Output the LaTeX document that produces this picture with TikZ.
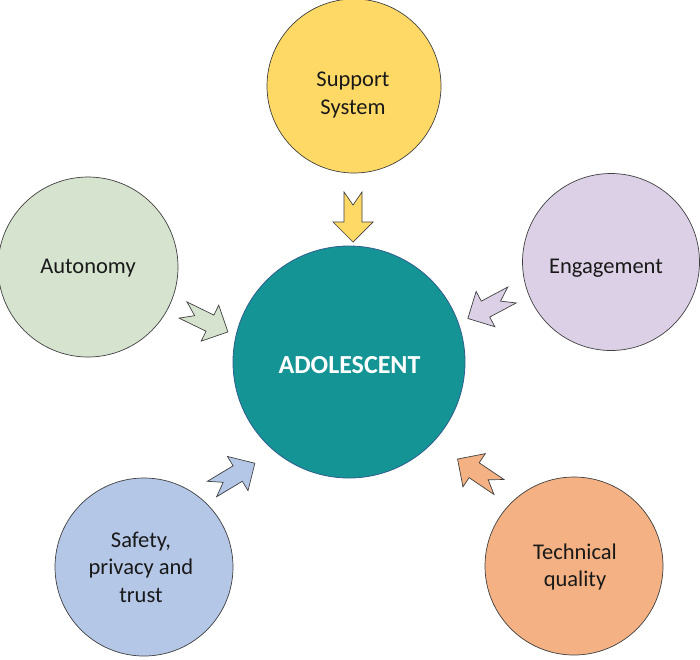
\documentclass[tikz,border=0pt]{standalone}
\usepackage{fontspec}
\setmainfont{Carlito}
\definecolor{teal1}{HTML}{149494}
\definecolor{tealedge}{HTML}{2F5F8F}
\definecolor{yel}{HTML}{FFD966}
\definecolor{grn}{HTML}{D6E3CF}
\definecolor{lav}{HTML}{DCD0E6}
\definecolor{blu}{HTML}{B4C7E7}
\definecolor{org}{HTML}{F4B183}
\definecolor{edge}{HTML}{404040}
\tikzset{
  x=1pt,y=-1pt,
  outer/.style={circle,draw=edge,line width=0.7pt,inner sep=0pt,minimum size=#1},
  lbl/.style={align=center,font=\fontsize{22.5}{27.5}\selectfont,text=black!90},
  notcharrow/.pic={
    \draw[pic actions,draw=edge,line width=0.7pt,line join=miter]
      (0,-9) -- (30,-9) -- (30,-20) -- (50,0) -- (30,20) -- (30,9) -- (0,9) -- (13,0) -- cycle;
  }
}
\begin{document}
\begin{tikzpicture}
\useasboundingbox (0,0) rectangle (700,659);
\node[circle,fill=teal1,draw=tealedge,line width=0.8pt,minimum size=232pt,inner sep=0pt] (ado) at (349,362) {};
\node[text=white,font=\fontsize{26}{30}\selectfont\bfseries] (adolabel) at (349.5,365) {ADOLESCENT};
\node[outer=174pt,fill=yel] (sup) at (354,86) {};
\node[lbl] (suplabel) at (353,95) {Support\\System};
\node[outer=180pt,fill=grn] (aut) at (88,267) {};
\node[lbl] (autlabel) at (88,268) {Autonomy};
\node[outer=177pt,fill=lav] (eng) at (611,262) {};
\node[lbl] (englabel) at (606,268) {Engagement};
\node[outer=178pt,fill=blu] (saf) at (144,567) {};
\node[lbl] (saflabel) at (141,567) {Safety,\\privacy and\\trust};
\node[outer=178pt,fill=org] (tec) at (574,566) {};
\node[lbl] (teclabel) at (575,567) {Technical\\quality};
\pic[fill=yel,rotate=-90] at (353,192) {notcharrow};
\pic[fill=grn,rotate=-26] at (183,310) {notcharrow};
\pic[fill=lav,rotate=208] at (512,295) {notcharrow};
\pic[fill=blu,rotate=31] at (212,489) {notcharrow};
\pic[fill=org,rotate=146] at (499,487) {notcharrow};
\end{tikzpicture}
\end{document}
